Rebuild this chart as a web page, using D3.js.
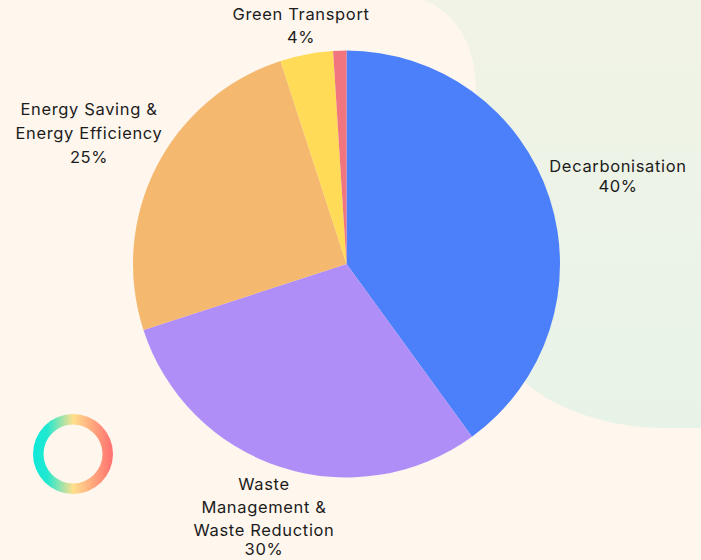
<!DOCTYPE html>
<html>
<head>
<meta charset="utf-8">
<script src="https://cdn.jsdelivr.net/npm/d3@7"></script>
<style>
html, body { margin: 0; padding: 0; background: #fff6ee; }
svg { display: block; }
text { font-family: "Inter", "Noto Sans", sans-serif; font-size: 16.5px; letter-spacing: 0.65px; fill: #1c1c1c; text-anchor: middle; }
</style>
</head>
<body>
<div id="chart"></div>
<script>
// chart values
var categories = ["Decarbonisation", "Waste Management & Waste Reduction", "Energy Saving & Energy Efficiency", "Green Transport", "Other"];
var values = [40, 30, 25, 4, 1];
var colors = ["#4b80fa", "#b08ef7", "#f4b86e", "#ffdb58", "#f0757f"];
var labelLines = [
    ["Decarbonisation", "40%"],
    ["Waste", "Management &", "Waste Reduction", "30%"],
    ["Energy Saving &", "Energy Efficiency", "25%"],
    ["Green Transport", "4%"],
    []
];

var width = 701, height = 560;
var cx = 346.5, cy = 264, radius = 213.5;

// label layout, x / baseline of each line
var labelX = [618, 264, 89, 301];
var labelY = [
    [172, 192],
    [490, 513, 536, 555],
    [115, 139, 163],
    [20, 43]
];

var svg = d3.select("#chart").append("svg")
    .attr("width", width)
    .attr("height", height);

var defs = svg.append("defs");

var bgGrad = defs.append("linearGradient")
    .attr("id", "bgGrad")
    .attr("x1", 0).attr("y1", 0).attr("x2", 0).attr("y2", 1);
bgGrad.append("stop").attr("offset", "0%").attr("stop-color", "#f1f3e6");
bgGrad.append("stop").attr("offset", "100%").attr("stop-color", "#e8f3e8");

var ringGrad = defs.append("linearGradient")
    .attr("id", "ringGrad")
    .attr("x1", 0).attr("y1", 0).attr("x2", 1).attr("y2", 0);
ringGrad.append("stop").attr("offset", "0%").attr("stop-color", "#0ee9da");
ringGrad.append("stop").attr("offset", "18%").attr("stop-color", "#22e8d0");
ringGrad.append("stop").attr("offset", "50%").attr("stop-color", "#ffdf8c");
ringGrad.append("stop").attr("offset", "100%").attr("stop-color", "#ff6f6f");

// green blob in the back
svg.append("path")
    .attr("fill", "url(#bgGrad)")
    .attr("d", "M 424 0 C 460 15 476 50 476 90 L 525 382 C 555 410 610 428 665 428 L 701 428 L 701 0 Z");

// ring at bottom left
svg.append("path")
    .attr("transform", "translate(73,454)")
    .attr("fill", "url(#ringGrad)")
    .attr("d", d3.arc().innerRadius(29.5).outerRadius(40)({startAngle: 0, endAngle: 2 * Math.PI}));

var pie = d3.pie().sort(null).value(function(d) { return d; });
var arc = d3.arc().innerRadius(0).outerRadius(radius);

svg.append("g")
    .attr("transform", "translate(" + cx + "," + cy + ")")
    .selectAll("path")
    .data(pie(values))
    .enter()
    .append("path")
    .attr("d", arc)
    .attr("fill", function(d, i) { return colors[i]; });

var labels = svg.append("g")
    .selectAll("text")
    .data(labelLines.filter(function(d) { return d.length > 0; }))
    .enter()
    .append("text");

labels.selectAll("tspan")
    .data(function(d, i) {
        return d.map(function(t, j) { return {t: t, x: labelX[i], y: labelY[i][j]}; });
    })
    .enter()
    .append("tspan")
    .attr("x", function(d) { return d.x; })
    .attr("y", function(d) { return d.y; })
    .text(function(d) { return d.t; });
</script>
</body>
</html>
